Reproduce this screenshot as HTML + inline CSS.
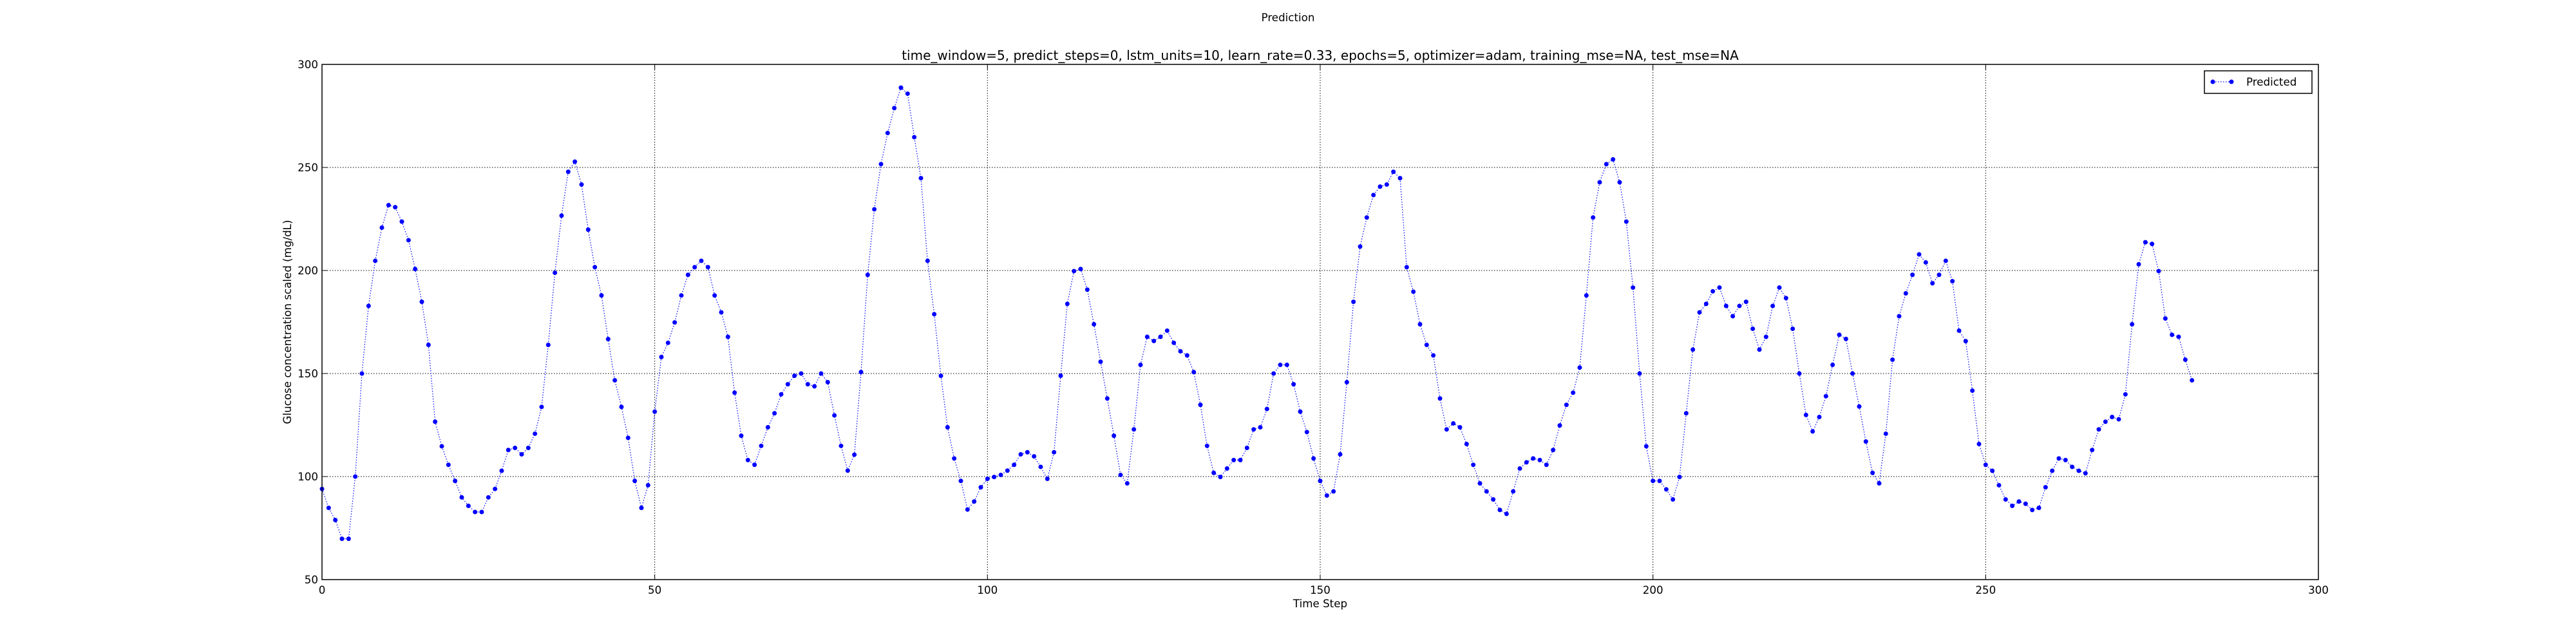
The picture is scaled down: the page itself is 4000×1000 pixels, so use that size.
<!DOCTYPE html>
<html>
<head>
<meta charset="utf-8">
<style>
  html,body{margin:0;padding:0;background:#fff;}
  svg{display:block;}
  text{font-family:"DejaVu Sans","Liberation Sans",sans-serif;fill:#000;}
</style>
</head>
<body>
<svg id="chart" xmlns="http://www.w3.org/2000/svg" width="4000" height="1000" viewBox="0 0 4000 1000">
  <rect x="0" y="0" width="4000" height="1000" fill="#fff"/>
  <text x="2000" y="33" font-size="16.7" text-anchor="middle">Prediction</text>
  <text x="2050" y="93" font-size="20" text-anchor="middle">time_window=5, predict_steps=0, lstm_units=10, learn_rate=0.33, epochs=5, optimizer=adam, training_mse=NA, test_mse=NA</text>
  <g id="grid"></g>
  <g id="series"></g>
  <rect x="500" y="100" width="3100" height="800" fill="none" stroke="#000" stroke-width="1.5"/>
  <g id="ticks"></g>
  <text x="2050" y="943" font-size="16.7" text-anchor="middle">Time Step</text>
  <text transform="translate(452,500) rotate(-90)" font-size="16.7" text-anchor="middle">Glucose concentration scaled (mg/dL)</text>
  <g>
    <rect x="3423" y="110" width="167" height="35" fill="#fff" stroke="#000" stroke-width="1.5"/>
    <line x1="3436" y1="127" x2="3465" y2="127" stroke="#0000ff" stroke-width="1.2" stroke-dasharray="1.5,2.5"/>
    <circle cx="3436" cy="127" r="3.5" fill="#0000ff"/>
    <circle cx="3465" cy="127" r="3.5" fill="#0000ff"/>
    <text x="3488" y="133" font-size="16.7">Predicted</text>
  </g>
</svg>
<script>
const xTicks = [0, 50, 100, 150, 200, 250, 300];
const yTicks = [50, 100, 150, 200, 250, 300];
const predicted = [
94,84.8,78.9,69.8,69.8,100,150,182.8,204.7,220.8,
231.7,230.7,223.7,214.7,200.7,184.8,163.9,126.6,114.7,105.7,
97.9,89.9,85.8,82.8,82.8,89.9,94,102.8,112.9,113.9,
110.8,113.9,120.8,133.8,163.9,198.9,226.6,247.9,252.8,241.7,
219.8,201.6,187.9,166.7,146.7,133.8,118.8,97.9,84.8,95.8,
131.5,158,164.9,174.8,187.9,197.9,201.6,204.7,201.6,187.9,
179.7,167.8,140.7,119.8,108,105.7,114.9,123.9,130.7,139.9,
144.8,148.9,150,144.8,143.8,150,145.8,129.7,114.9,102.9,
110.6,150.7,197.9,229.7,251.6,266.7,278.8,288.7,285.8,264.7,
244.8,204.7,178.8,148.9,123.9,108.8,97.9,84,87.9,94.8,
98.9,99.8,100.8,102.9,105.7,110.8,111.8,109.8,104.7,98.9,
111.8,148.9,183.8,199.7,200.7,190.7,173.9,155.7,137.9,119.8,
100.8,96.7,122.9,154.2,167.8,165.8,167.8,170.8,164.9,160.8,
158.8,150.7,134.8,114.9,101.8,99.8,103.9,108,108,113.9,
122.9,123.9,132.8,150,154.2,154.2,144.8,131.5,121.6,108.8,
97.9,90.8,92.8,110.8,145.8,184.8,211.6,225.7,236.6,240.7,
241.7,247.9,244.8,201.6,189.7,173.9,163.9,158.8,137.9,122.9,
125.8,123.9,115.8,105.7,96.7,92.8,88.9,83.8,81.9,92.8,
103.9,106.9,108.8,108,105.7,112.9,124.8,134.8,140.7,152.9,
187.9,225.7,242.8,251.6,253.9,242.8,223.7,191.7,150,114.7,
97.9,97.9,93.8,88.9,99.8,130.7,161.6,179.7,183.8,189.9,
191.7,182.8,177.8,182.8,184.8,171.7,161.6,167.8,182.8,191.7,
186.6,171.7,150,129.9,121.9,128.9,139,154.2,168.8,166.8,
150,134,117,101.8,96.7,120.8,156.7,177.8,188.9,197.9,
207.8,203.9,193.8,197.9,204.7,194.8,170.8,165.7,141.7,115.8,
105.7,102.8,95.8,88.9,85.8,87.9,86.8,83.8,84.8,94.8,
102.8,108.8,108,104.7,102.8,101.6,112.9,122.9,126.6,128.9,
127.8,139.9,173.9,203,213.7,212.9,199.7,176.7,168.8,167.8,
156.7,146.7
];

const NS = "http://www.w3.org/2000/svg";
const X0 = 500, X1 = 3600, Y0 = 900, Y1 = 100;
function xScale(v){ return X0 + (v - 0) / (300 - 0) * (X1 - X0); }
function yScale(v){ return Y0 - (v - 50) / (300 - 50) * (Y0 - Y1); }

const grid = document.getElementById('grid');
const ticks = document.getElementById('ticks');
const series = document.getElementById('series');

xTicks.forEach(function(t){
  const x = xScale(t);
  if (t > 0 && t < 300) {
    const gl = document.createElementNS(NS, 'line');
    gl.setAttribute('x1', x); gl.setAttribute('x2', x);
    gl.setAttribute('y1', Y1); gl.setAttribute('y2', Y0);
    gl.setAttribute('stroke', '#000'); gl.setAttribute('stroke-width', '1');
    gl.setAttribute('stroke-dasharray', '1.5,2.5');
    
    
    grid.appendChild(gl);
  }
  [[Y0, Y0 - 8], [Y1, Y1 + 8]].forEach(function(p){
    const tk = document.createElementNS(NS, 'line');
    tk.setAttribute('x1', x); tk.setAttribute('x2', x);
    tk.setAttribute('y1', p[0]); tk.setAttribute('y2', p[1]);
    tk.setAttribute('stroke', '#000'); tk.setAttribute('stroke-width', '1');
    
    
    ticks.appendChild(tk);
  });
  const lb = document.createElementNS(NS, 'text');
  lb.setAttribute('x', x); lb.setAttribute('y', Y0 + 22);
  lb.setAttribute('font-size', '16.7'); lb.setAttribute('text-anchor', 'middle');
  lb.textContent = t;
  
  
  ticks.appendChild(lb);
});

yTicks.forEach(function(t){
  const y = yScale(t);
  if (t > 50 && t < 300) {
    const gl = document.createElementNS(NS, 'line');
    gl.setAttribute('x1', X0); gl.setAttribute('x2', X1);
    gl.setAttribute('y1', y); gl.setAttribute('y2', y);
    gl.setAttribute('stroke', '#000'); gl.setAttribute('stroke-width', '1');
    gl.setAttribute('stroke-dasharray', '1.5,2.5');
    
    
    grid.appendChild(gl);
  }
  [[X0, X0 + 8], [X1, X1 - 8]].forEach(function(p){
    const tk = document.createElementNS(NS, 'line');
    tk.setAttribute('x1', p[0]); tk.setAttribute('x2', p[1]);
    tk.setAttribute('y1', y); tk.setAttribute('y2', y);
    tk.setAttribute('stroke', '#000'); tk.setAttribute('stroke-width', '1');
    
    
    ticks.appendChild(tk);
  });
  const lb = document.createElementNS(NS, 'text');
  lb.setAttribute('x', X0 - 6); lb.setAttribute('y', y + 6);
  lb.setAttribute('font-size', '16.7'); lb.setAttribute('text-anchor', 'end');
  lb.textContent = t;
  
  
  ticks.appendChild(lb);
});

const pts = predicted.map(function(v, i){ return xScale(i).toFixed(2) + ',' + yScale(v).toFixed(2); }).join(' ');
const pl = document.createElementNS(NS, 'polyline');
pl.setAttribute('points', pts);
pl.setAttribute('fill', 'none');
pl.setAttribute('stroke', '#0000ff');
pl.setAttribute('stroke-width', '1.2');
pl.setAttribute('stroke-dasharray', '1.5,2.5');


series.appendChild(pl);

predicted.forEach(function(v, i){
  const c = document.createElementNS(NS, 'circle');
  c.setAttribute('cx', xScale(i));
  c.setAttribute('cy', yScale(v));
  c.setAttribute('r', '3.5');
  c.setAttribute('fill', '#0000ff');
  
  
  series.appendChild(c);
});
</script>
</body>
</html>
